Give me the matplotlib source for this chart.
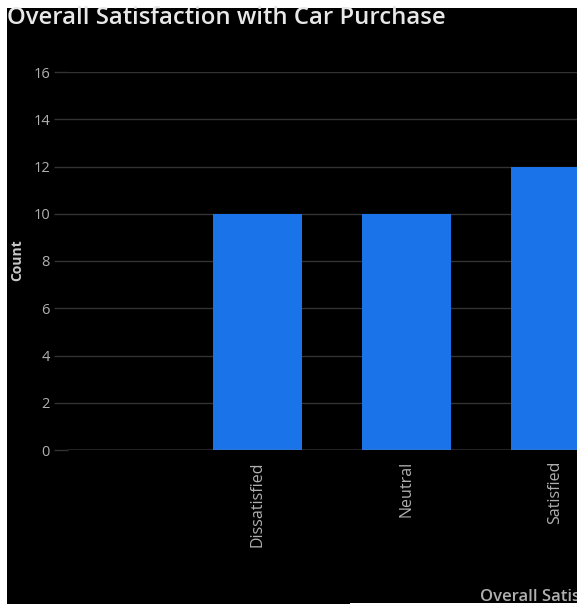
import matplotlib
matplotlib.use("Agg")
import matplotlib.pyplot as plt
from matplotlib.patches import Rectangle

categories = ["Dissatisfied", "Neutral", "Satisfied"]
counts = [10, 10, 12]
yticks = [0, 2, 4, 6, 8, 10, 12, 14, 16]

W, H = 577, 605
plt.rcParams['font.family'] = ['Open Sans', 'DejaVu Sans']
fig = plt.figure(figsize=(W / 100, H / 100), dpi=100, facecolor="white")

# black panel
fig.patches.append(Rectangle((7 / W, 1 - 604 / H), 1, (604 - 8) / H,
                             transform=fig.transFigure, facecolor="black",
                             edgecolor="none", zorder=-10))
# thin white line at bottom right
fig.patches.append(Rectangle((350 / W, 0), 1, 2 / H,
                             transform=fig.transFigure, facecolor="white",
                             edgecolor="none", zorder=-9))

left, right = 68 / W, 630 / W
bottom, top = 1 - 450 / H, 1 - 72 / H
ax = fig.add_axes([left, bottom, right - left, top - bottom])
ax.set_zorder(5)
ax.set_facecolor("black")

x = list(range(len(categories)))
ax.bar(x, counts, width=0.6, color="#1a73e8", zorder=3)
ax.set_xlim(-1.27, 2.5)
ax.set_ylim(0, 16)
ax.set_yticks(yticks)
ax.set_yticklabels([str(v) for v in yticks])
ax.set_xticks(x)
ax.set_xticklabels(categories, rotation=90, va="top", ha="center")

for s in ax.spines.values():
    s.set_visible(False)
ax.grid(axis="y", color="#333333", linewidth=1, zorder=0)
ax.axhline(0, color="#8a8a8a", linewidth=1, zorder=4)
ax.tick_params(axis="y", length=10, width=1, color="#333333",
               labelcolor="#b0b0b0", labelsize=10.5, pad=3)
ax.tick_params(axis="x", length=0, labelcolor="#b0b0b0", labelsize=11.5, pad=8)

fig.text(7 / W, 1 - 18 / H, "Overall Satisfaction with Car Purchase",
         color="#e8e8e8", fontsize=17.2, fontweight="semibold", va="center", ha="left",
         zorder=10)
fig.text(17 / W, 1 - 260 / H, "Count", color="#c8c8c8", fontsize=10,
         fontweight="bold", rotation=90, va="center", ha="center", zorder=10)
fig.text(480 / W, 1 - 597 / H, "Overall Satisfaction", color="#b0b0b0",
         fontsize=12, fontweight="semibold", va="center", ha="left", zorder=10)

fig.savefig("out.png", dpi=100, facecolor=fig.get_facecolor())
